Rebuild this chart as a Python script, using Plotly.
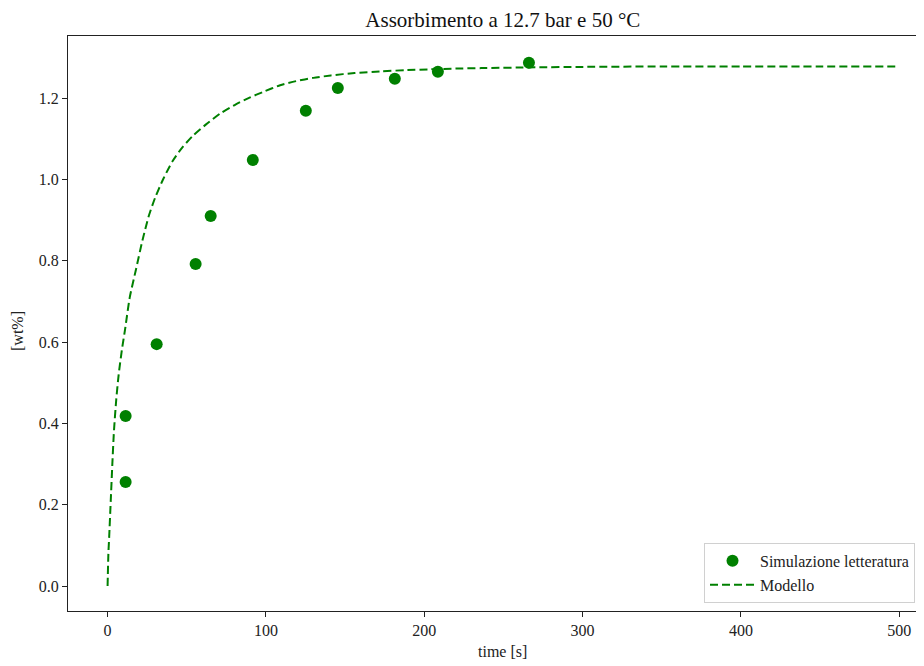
import plotly.graph_objects as go

# Literature simulation points
sim_time = [11.4, 11.4, 31, 55.6, 65.1, 91.7, 125.2, 145.4, 181.4, 208.6, 266.1]
sim_wt = [0.256, 0.418, 0.595, 0.792, 0.910, 1.048, 1.169, 1.225, 1.248, 1.265, 1.287]

# Model curve
model_time = [0, 0.5, 1, 2, 3, 4, 5.5, 7, 9, 11, 14, 18, 22, 26, 30, 35, 41, 47, 54, 62,
              71, 81, 90, 98, 109, 119, 130, 141, 156, 173, 188, 204, 220, 236, 270,
              300, 350, 400, 450, 500]
model_wt = [0.0, 0.08, 0.12, 0.21, 0.30, 0.38, 0.46, 0.52, 0.58, 0.63, 0.71, 0.78, 0.85,
            0.91, 0.955, 1.0, 1.045, 1.078, 1.108, 1.135, 1.162, 1.185, 1.202, 1.215,
            1.232, 1.242, 1.25, 1.256, 1.262, 1.266, 1.269, 1.271, 1.273, 1.274, 1.276,
            1.277, 1.278, 1.278, 1.278, 1.278]

x_ticks = [0, 100, 200, 300, 400, 500]
y_ticks = [0.0, 0.2, 0.4, 0.6, 0.8, 1.0, 1.2]

FONT = "Liberation Serif"
GREEN = "#008000"

W, H = 916, 658  # page body adds an 8px offset

fig = go.Figure()
fig.add_trace(go.Scatter(
    x=sim_time, y=sim_wt, mode="markers", name="Simulazione letteratura",
    marker=dict(color=GREEN, size=12, line=dict(width=0)),
))
fig.add_trace(go.Scatter(
    x=model_time, y=model_wt, mode="lines", name="Modello",
    line=dict(color=GREEN, width=2, dash="8px,4px", shape="spline", smoothing=0.6),
))

fig.update_layout(
    width=W, height=H,
    margin=dict(l=60, r=0, t=28, b=55, autoexpand=False),
    paper_bgcolor="white", plot_bgcolor="white",
    font=dict(family=FONT, size=16, color="#222"),
    title=dict(text="Assorbimento a 12.7 bar e 50 °C", x=0.508, xref="paper",
               xanchor="center", y=1 - 12 / H, yanchor="middle",
               font=dict(family=FONT, size=21, color="#111")),
    legend=dict(x=0.743, xanchor="left", y=0.014, yanchor="bottom",
                bgcolor="rgba(255,255,255,0.8)", bordercolor="#d0d0d0", borderwidth=1,
                font=dict(family=FONT, size=16, color="#222"), tracegroupgap=0,
                itemwidth=45),
    showlegend=True,
    annotations=[
        dict(text="time [s]", xref="paper", yref="paper", x=0.508, y=-0.0713,
             xanchor="center", yanchor="middle", showarrow=False,
             font=dict(family=FONT, size=16, color="#222")),
        dict(text="[wt%]", xref="paper", yref="paper", x=-0.0584, y=0.487,
             xanchor="center", yanchor="middle", showarrow=False, textangle=-90,
             font=dict(family=FONT, size=16, color="#222")),
    ],
)
fig.update_xaxes(
    range=[-25, 515.6], tickvals=x_ticks, ticktext=[str(v) for v in x_ticks],
    showgrid=False, zeroline=False, showline=True, linecolor="#222", linewidth=1.3,
    mirror=True, ticks="outside", ticklen=5, tickcolor="#222",
)
fig.update_yaxes(
    range=[-0.0615, 1.353], tickvals=y_ticks, ticktext=[f"{v:.1f}" for v in y_ticks],
    showgrid=False, zeroline=False, showline=True, linecolor="#222", linewidth=1.3,
    mirror=False, ticks="outside", ticklen=5, tickcolor="#222",
)

fig.write_html("out.html")
